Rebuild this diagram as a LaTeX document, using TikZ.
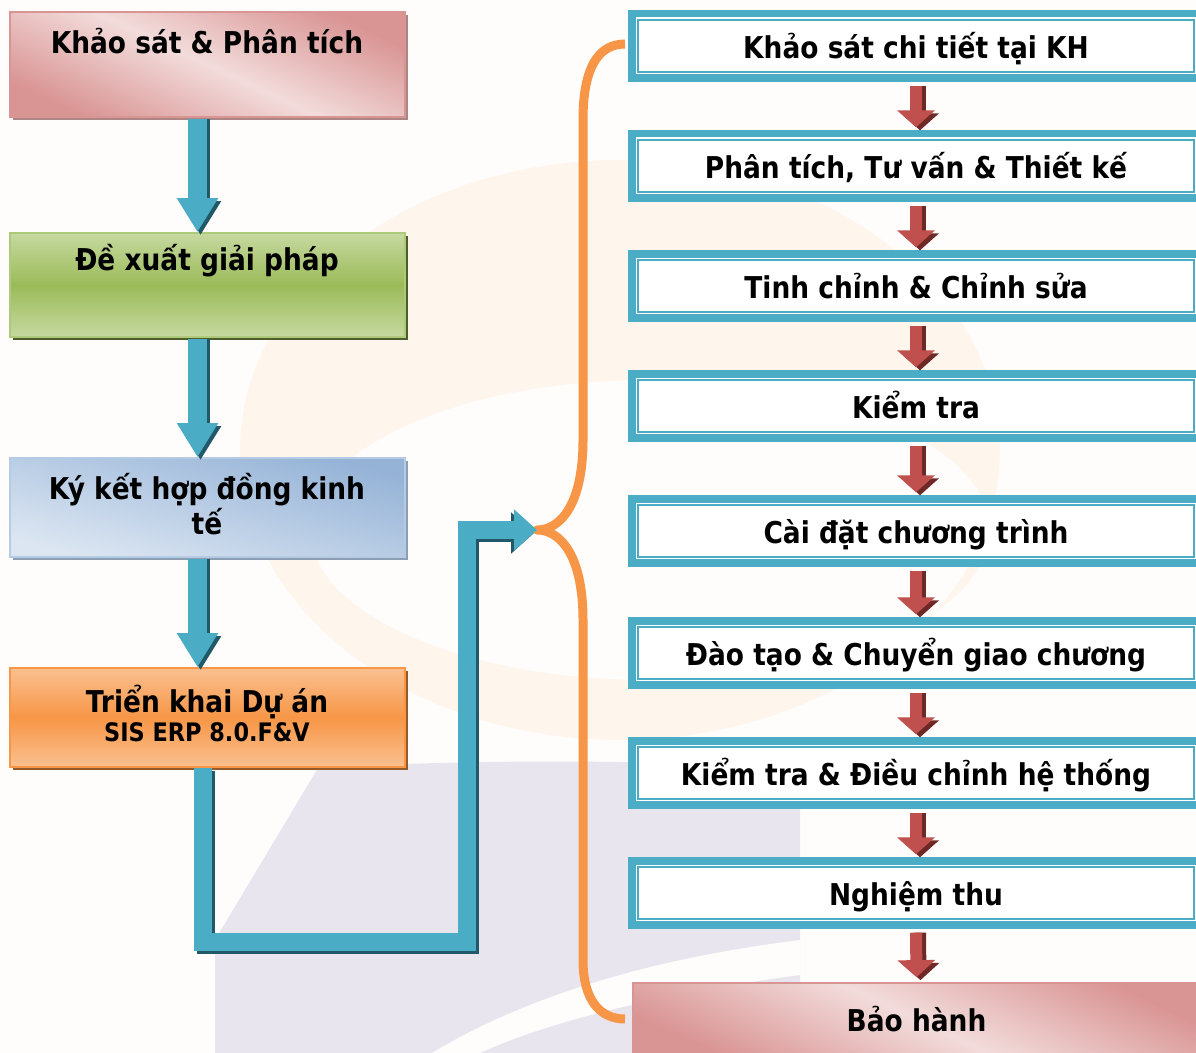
\documentclass[tikz,border=0pt]{standalone}
\usepackage{fontspec}
\setmainfont{DejaVu Sans}[FakeStretch=0.88]
\usepackage{tikz}
\usetikzlibrary{arrows.meta}
\usetikzlibrary{shadows}

\definecolor{tealbar}{HTML}{4BACC6}
\definecolor{tealdark}{HTML}{215968}
\definecolor{redbar}{HTML}{C0504D}
\definecolor{reddark}{HTML}{6E2826}
\definecolor{bracecol}{HTML}{F79646}
\definecolor{pinkdark}{HTML}{D99594}
\definecolor{pinklight}{HTML}{F2DCDB}
\definecolor{greendark}{HTML}{9BBB59}
\definecolor{greenlight}{HTML}{C6D9A0}
\definecolor{bluedark}{HTML}{95B3D7}
\definecolor{bluelight}{HTML}{DCE6F2}
\definecolor{orangedark}{HTML}{F79646}
\definecolor{orangelight}{HTML}{FAC090}
\definecolor{paper}{HTML}{FEFDFB}
\definecolor{lavender}{HTML}{E9E5EF}
\definecolor{peach}{HTML}{FEF6EC}

\tikzset{
  stage/.style={rectangle, minimum width=7.9cm, minimum height=2.1cm, line width=1pt, inner sep=0pt},
  pinkstage/.style={draw=pinkdark, top color=pinkdark, bottom color=pinkdark, middle color=pinklight, shading angle=-25,
    drop shadow={shadow xshift=0.06cm, shadow yshift=-0.06cm, fill=pinkdark!70!black, opacity=0.8}},
  greenstage/.style={draw=greendark!80!white, top color=greenlight, bottom color=greenlight, middle color=greendark,
    drop shadow={shadow xshift=0.06cm, shadow yshift=-0.06cm, fill=greendark!50!black, opacity=1}},
  bluestage/.style={draw=bluedark!70!white, top color=bluedark, bottom color=bluelight, shading angle=-15,
    drop shadow={shadow xshift=0.06cm, shadow yshift=-0.06cm, fill=bluedark!60!gray, opacity=1}},
  orangestage/.style={draw=orangedark, top color=orangelight, bottom color=orangelight, middle color=orangedark,
    drop shadow={shadow xshift=0.06cm, shadow yshift=-0.06cm, fill=orangedark!60!black, opacity=1}},
  stagetext/.style={font=\bfseries\fontsize{17.1}{19.5}\selectfont, align=center, inner sep=0pt},
  stepbox/.style={rectangle, minimum width=11.12cm, minimum height=1.04cm, fill=white, draw=tealbar, line width=0.8pt,
    preaction={draw=tealbar, line width=0.4cm}, preaction={draw=white, line width=0.1cm},
    font=\bfseries\fontsize{17.1}{19}\selectfont, text height=15pt, text depth=0.4pt},
  blueflow/.style={draw=tealbar, line width=0.38cm, -{Triangle[width=0.78cm,length=0.68cm]}},
  blueshade/.style={blueflow, draw=tealdark},
  redflow/.style={draw=redbar, line width=0.24cm, -{Triangle[width=0.74cm,length=0.34cm]}},
  redshade/.style={redflow, draw=reddark},
  brace/.style={draw=bracecol, line width=0.18cm, line join=round}
}

\begin{document}
\begin{tikzpicture}[x=0.02cm, y=-0.02cm]

  \useasboundingbox (0,0) rectangle (1196,1053);
  \fill[paper] (0,0) rectangle (1196,1053);

  % faint watermark behind the chart
  \fill[peach, even odd rule] (620,450) ellipse [x radius=7.6cm, y radius=5.8cm]
    (650,530) ellipse [x radius=6.8cm, y radius=3cm];
  \fill[lavender] (215,1053) -- (215,940) -- (318,768) .. controls (450,760) and (650,758) .. (800,770)
    -- (800,1053) -- cycle;
  \fill[paper] (432,1053) .. controls (520,1000) and (640,960) .. (800,940) -- (800,975)
    .. controls (650,995) and (540,1025) .. (480,1053) -- cycle;

  % left column
  \node[stage, pinkstage] (survey) at (207.5,64.5) {};
  \node[stage, greenstage, minimum height=2.08cm] (proposal) at (207.5,285) {};
  \node[stage, bluestage, minimum height=1.98cm] (contract) at (207.5,507.5) {};
  \node[stage, orangestage, minimum height=1.98cm] (deploy) at (207.5,717.5) {};

  \node[stagetext] (surveytext) at (207,41) {Khảo sát \& Phân tích};
  \node[stagetext] (proposaltext) at (207,261) {Đề xuất giải pháp};
  \node[stagetext] (contracttext) at (207,504) {Ký kết hợp đồng kinh\\tế};
  \node[stagetext] (deploytext) at (207,713) {Triển khai Dự án\\[-3pt]{\fontsize{14.5}{16}\selectfont SIS ERP 8.0.F\&V}};

  % orange brace
  \coordinate (bracetip) at (537,530);
  \coordinate (bend) at (467,942);
  \draw[brace] (625,44) .. controls (597,44) and (583,70) .. (583,120) -- (583,440)
    .. controls (583,505) and (560,530) .. (bracetip)
    .. controls (560,530) and (583,555) .. (583,620) -- (583,960)
    .. controls (583,1000) and (600,1019) .. (625,1019);

  % blue flow arrows
  \foreach \a/\b in {survey/proposal, proposal/contract, contract/deploy} {
    \draw[blueshade] ([xshift=-0.14cm, yshift=-0.02cm]\a.south) -- ([xshift=-0.14cm, yshift=-0.06cm]\b.north);
    \draw[blueflow] ([xshift=-0.2cm, yshift=-0.02cm]\a.south) -- ([xshift=-0.2cm]\b.north);
  }
  \draw[blueshade, line width=0.36cm, -{Triangle[width=0.8cm,length=0.46cm]}]
    ([xshift=-0.03cm, yshift=-0.06cm]deploy.south) |- ([xshift=0.06cm, yshift=-0.06cm]bend)
    |- ([xshift=-0.06cm, yshift=-0.06cm]bracetip);
  \draw[blueflow, line width=0.36cm, -{Triangle[width=0.8cm,length=0.46cm]}]
    ([xshift=-0.09cm]deploy.south) |- (bend) |- (bracetip);

  % right column
  \foreach \txt/\y [count=\i] in {
      Khảo sát chi tiết tại KH/46,
      {Phân tích, Tư vấn \& Thiết kế}/166,
      Tinh chỉnh \& Chỉnh sửa/286,
      Kiểm tra/406,
      Cài đặt chương trình/531,
      Đào tạo \& Chuyển giao chương/653,
      Kiểm tra \& Điều chỉnh hệ thống/773,
      Nghiệm thu/893}
    \node[stepbox] (s\i) at (916,\y) {\txt};

  \node[stage, pinkstage, minimum width=11.34cm, minimum height=1.44cm,
    font=\bfseries\fontsize{17.1}{19}\selectfont, text height=15pt, text depth=0.4pt] (warranty) at (916.5,1019) {Bảo hành};

  % red step arrows
  \foreach \i [evaluate=\i as \j using int(\i+1)] in {1,...,7} {
    \draw[redshade] ([xshift=0.08cm, yshift=-0.26cm]s\i.south) -- ([xshift=0.08cm, yshift=0.18cm]s\j.north);
    \draw[redflow] ([yshift=-0.26cm]s\i.south) -- ([yshift=0.24cm]s\j.north);
  }
  \draw[redshade] ([xshift=0.08cm, yshift=-0.26cm]s8.south) -- ([xshift=0.08cm, yshift=0.04cm]warranty.north);
  \draw[redflow] ([yshift=-0.26cm]s8.south) -- ([yshift=0.1cm]warranty.north);

\end{tikzpicture}
\end{document}
